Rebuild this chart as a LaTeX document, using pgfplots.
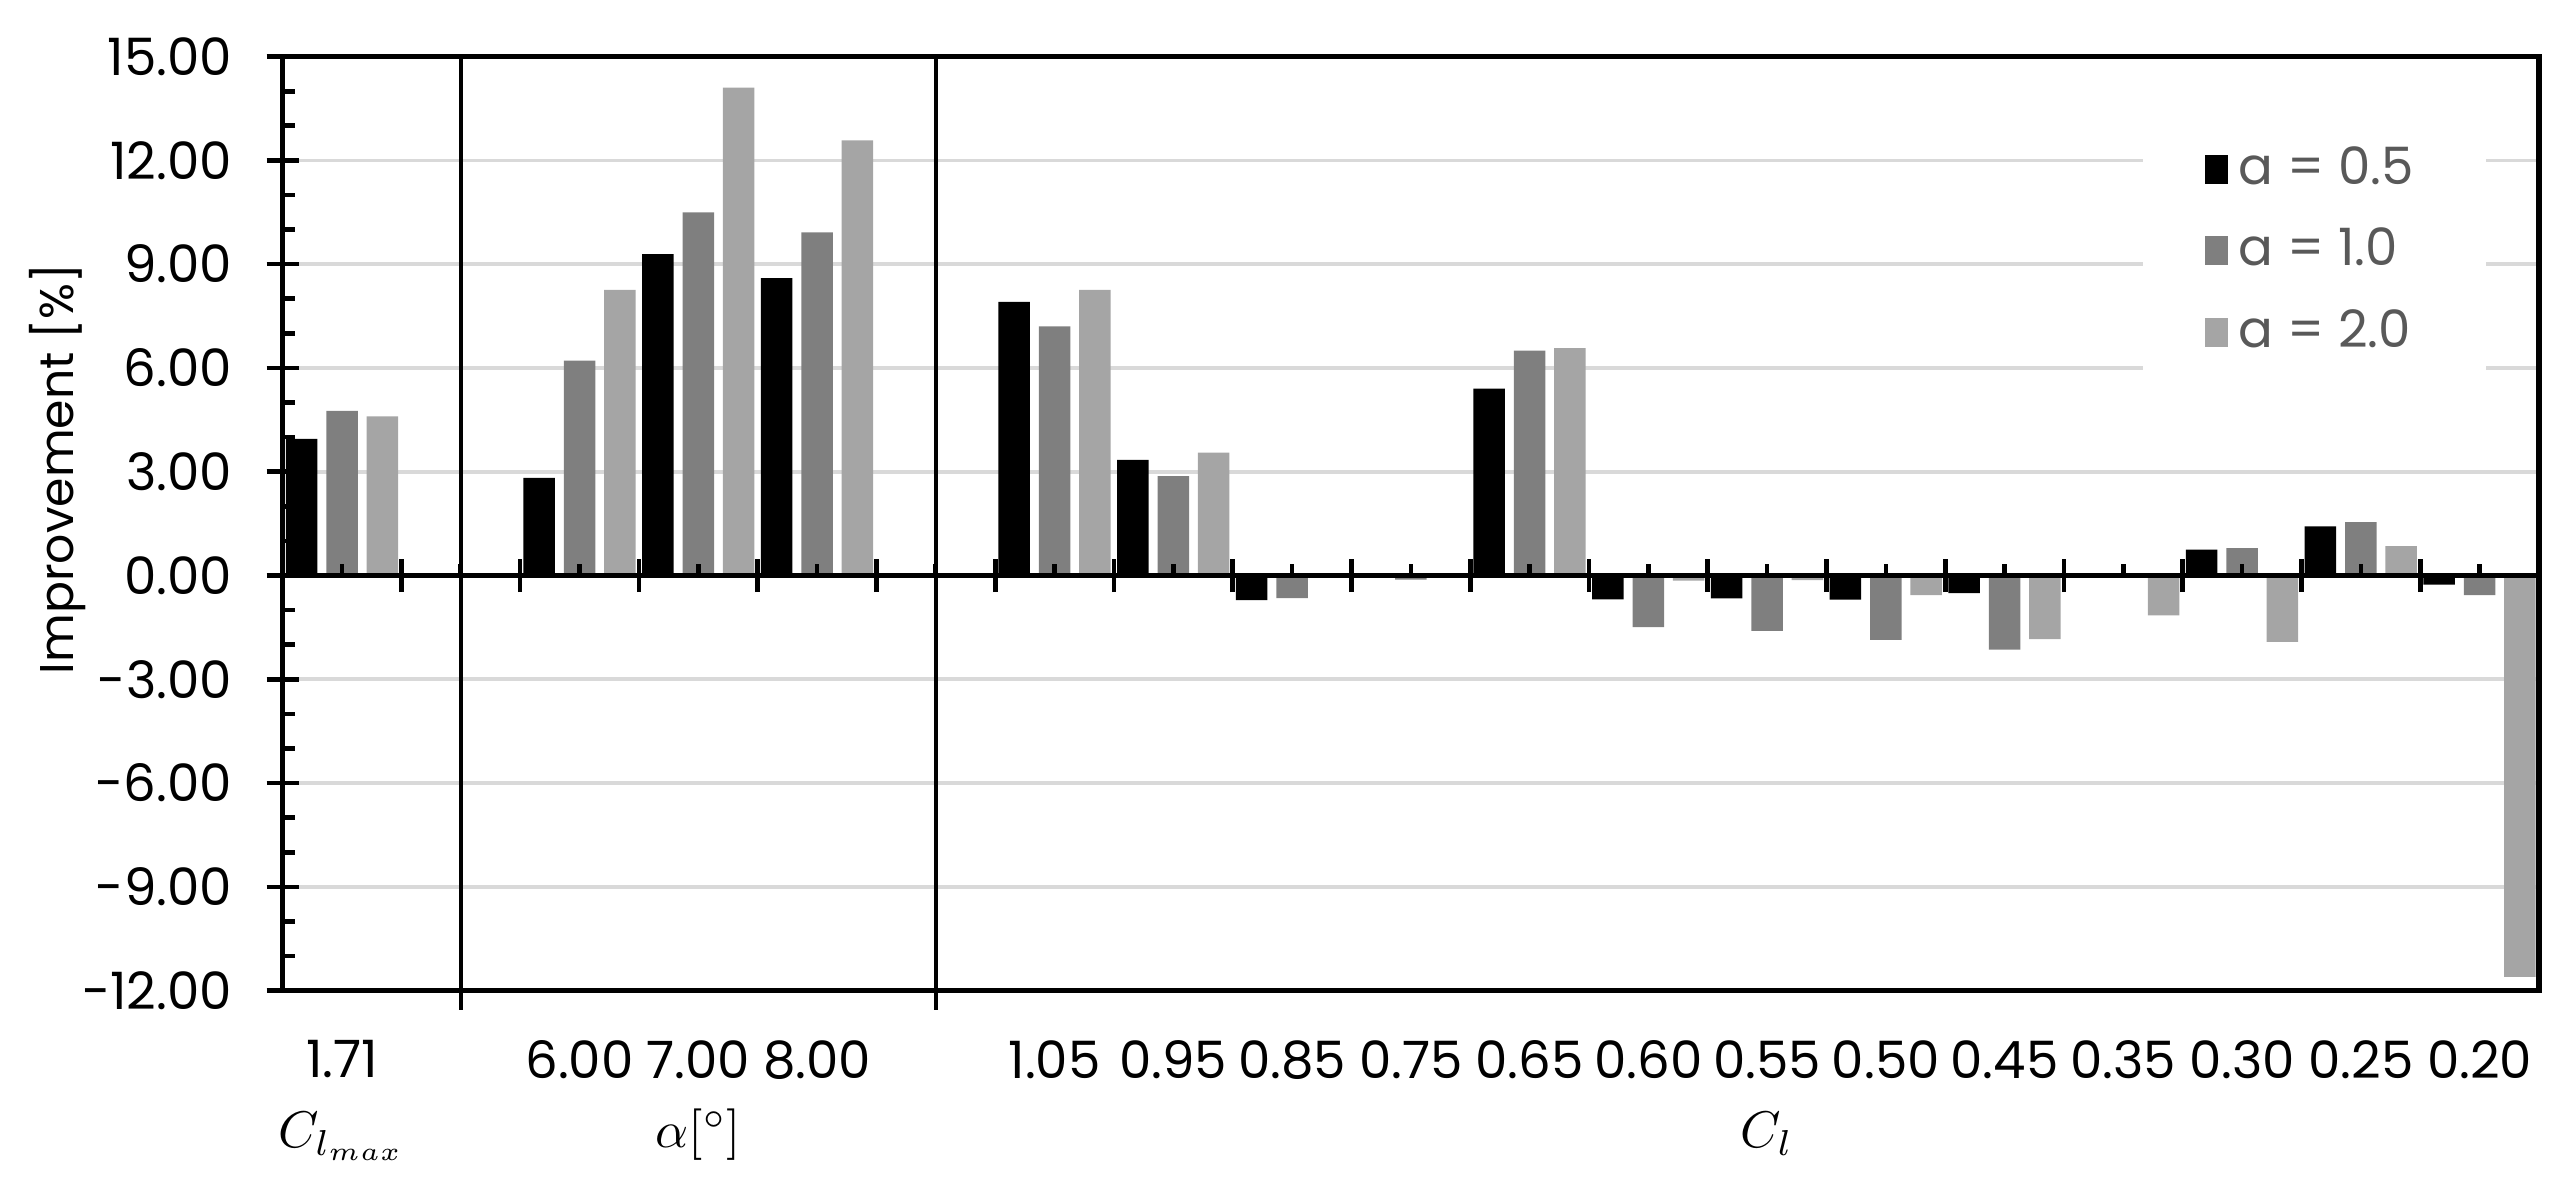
\documentclass[border=0pt]{standalone}
\usepackage{fontspec}
\setmainfont{Poppins}
\usepackage{graphicx}
\usepackage{pgfplots}
\usepackage{pgfplotstable}
\pgfplotsset{compat=1.18}

\definecolor{barA}{HTML}{000000}
\definecolor{barB}{HTML}{7F7F7F}
\definecolor{barC}{HTML}{A5A5A5}
\definecolor{gridc}{HTML}{D9D9D9}
\definecolor{legtext}{HTML}{595959}

% x: category slot (1 and 5 are the empty separator slots)
\pgfplotstableread{
x   a      b      c
0   3.95   4.76   4.60
2   2.82   6.21   8.26
3   9.29   10.50  14.10
4   8.60   9.92   12.58
6   7.91   7.20   8.26
7   3.34   2.87   3.55
8   -0.71  -0.65  0.00
9   -0.06  -0.12  0.00
10  5.40   6.50   6.57
11  -0.69  -1.49  -0.15
12  -0.66  -1.60  -0.13
13  -0.70  -1.86  -0.57
14  -0.51  -2.14  -1.84
15  0.06   0.03   -1.15
16  0.75   0.79   -1.92
17  1.42   1.54   0.85
18  -0.26  -0.57  -11.60
}\datatable

\newcommand{\lblfont}{\fontsize{10}{12}\selectfont}

\begin{document}
\begin{tikzpicture}
\begin{axis}[
    name=main,
    scale only axis,
    width=438.2pt, height=181.4pt,
    xmin=-0.5, xmax=18.5,
    ymin=-12, ymax=15,
    clip=false,
    axis line style={line width=1pt},
    xtick={0,2,3,4,6,7,8,9,10,11,12,13,14,15,16,17,18},
    xticklabels={1.71,6.00,7.00,8.00,
        1.05,0.95,0.85,0.75,0.65,0.60,0.55,0.50,0.45,0.35,0.30,0.25,0.20},
    x tick style={draw=none},
    xticklabel style={yshift=0pt, font=\lblfont},
    ytick={-12,-9,-6,-3,0,3,6,9,12,15},
    yticklabels={-12.00,-9.00,-6.00,-3.00,0.00,3.00,6.00,9.00,12.00,15.00},
    yticklabel style={xshift=-6.3pt, font=\lblfont},
    ytick pos=left,
    minor y tick num=2,
    tick align=inside,
    major tick length=6.2pt,
    minor tick length=2.4pt,
    y tick style={black, line width=0.9pt},
    every major y tick/.append style={xshift=-3.1pt},
    ymajorgrids,
    major grid style={gridc, line width=0.7pt},
    ylabel={\resizebox{79.7pt}{!}{Improvement [\%]}},
    every axis y label/.style={at={(rel axis cs:-0.0997,0.5585)}, rotate=90, anchor=center, font=\lblfont},
    ybar,
    bar width=0.265,
    legend image code/.code={\draw[#1,draw=none] (0pt,-2.8pt) rectangle (4.5pt,2.8pt);},
    legend style={draw=none, fill=white, at={(0.9005,0.792)}, anchor=center,
        inner xsep=12pt, inner ysep=6pt, row sep=3pt,
        font=\lblfont, text=legtext},
    legend cell align=left,
]
\addplot[fill=barA, draw=none, bar shift=-0.34] table[x=x, y=a] {\datatable};
\addplot[fill=barB, draw=none, bar shift=0] table[x=x, y=b] {\datatable};
\addplot[fill=barC, draw=none, bar shift=0.34] table[x=x, y=c] {\datatable};
\legend{a = 0.5, a = 1.0, a = 2.0}
\draw[line width=0.8pt] (axis cs:1,15) -- (axis cs:1,-12.57);
\draw[line width=0.8pt] (axis cs:5,15) -- (axis cs:5,-12.57);
% group names under the tick labels
\node[anchor=base, inner sep=1pt, yshift=-30.5pt, font=\lblfont] at (axis cs:0,-12) {$C_{l_{max}}$};
\node[anchor=base, inner sep=1pt, yshift=-30.5pt, font=\lblfont] at (axis cs:3,-12) {$\alpha[^\circ]$};
\node[anchor=base, inner sep=1pt, yshift=-30.5pt, font=\lblfont] at (axis cs:12,-12) {$C_l$};
\end{axis}
% zero line with its own tick marks
\begin{axis}[
    scale only axis,
    width=438.2pt, height=181.4pt,
    xmin=-0.5, xmax=18.5,
    ymin=-12, ymax=15,
    axis x line=middle,
    axis y line=none,
    axis line style={-, line width=1.1pt},
    xtick={-0.5,0.5,...,18.5},
    xticklabels={},
    minor xtick={0,...,18},
    tick align=center,
    major tick length=6.5pt,
    minor tick length=2.3pt,
    tick style={black, line width=0.9pt},
    every minor tick/.append style={yshift=1.15pt},
]
\addplot[draw=none] coordinates {(0,0)};
\end{axis}
\pgfresetboundingbox
\path[use as bounding box] (main.south west) ++(-54.9pt,-36.5pt) rectangle ([xshift=7pt,yshift=11pt]main.north east);
\end{tikzpicture}
\end{document}
